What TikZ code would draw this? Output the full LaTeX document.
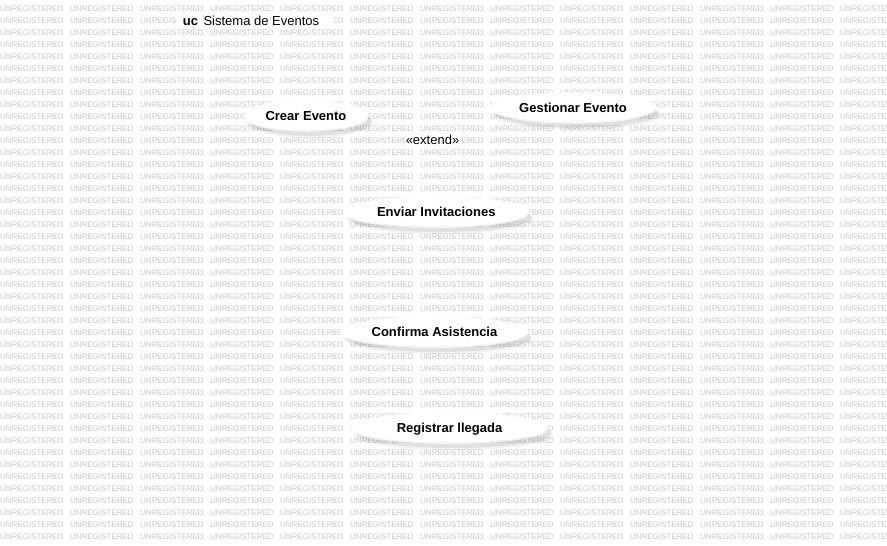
\documentclass[tikz,border=0pt]{standalone}
\usepackage{fontspec}
\setmainfont{Liberation Sans}
\usetikzlibrary{shapes.geometric,shadows}
\tikzset{
  wm/.style={anchor=west, inner sep=0pt, font=\fontsize{8}{8}\selectfont, text=black!22},
  usecase/.style={ellipse, fill=white, draw=white, line width=3pt, draw opacity=.7,
    inner sep=0pt, text height=9.4pt, text depth=0pt,
    font=\fontsize{13}{13}\selectfont\bfseries,
    drop shadow={shadow xshift=4pt, shadow yshift=-7pt, shadow scale=1.02, fill=black, opacity=.05},
    drop shadow={shadow xshift=4pt, shadow yshift=-5.5pt, fill=black, opacity=.07}},
  lbl/.style={anchor=base, inner sep=0.5pt, fill=white, font=\fontsize{13}{13}\selectfont},
  titlebox/.style={fill=white, inner sep=0pt, minimum width=158pt, minimum height=16pt}
}
\begin{document}
\begin{tikzpicture}[x=1pt,y=-1pt]
  \clip (0,0) rectangle (887,546);
  \fill[white] (0,0) rectangle (887,546);
  % watermark
  \foreach \r in {0,...,44}{
    \foreach \c in {0,...,12}{
      \node[wm] (w\r-\c) at (70*\c, 8.5+12*\r) {UNREGISTERED};
    }
  }
  % frame title
  \node[titlebox] (titlebg) at (255,20.5) {};
  \node[anchor=base west, inner sep=0pt, font=\fontsize{13}{13}\selectfont] (title) at (182.7,25.3)
    {\textbf{uc}\hspace{5.5pt}Sistema de Eventos};
  % use cases
  \node[usecase, minimum width=123pt, minimum height=29pt] (crear) at (306,115.8) {Crear Evento};
  \node[usecase, minimum width=163pt, minimum height=29pt] (gestionar) at (573,107.6) {Gestionar Evento};
  \node[usecase, minimum width=183pt, minimum height=29pt] (enviar) at (436.3,212) {Enviar Invitaciones};
  \node[usecase, minimum width=185pt, minimum height=29pt] (confirma) at (434.5,332) {Confirma Asistencia};
  \node[usecase, minimum width=195pt, minimum height=29pt] (registrar) at (449.5,428) {Registrar llegada};
  % stereotype label
  \node[lbl] (extend) at (432.5,144.3) {«extend»};
\end{tikzpicture}
\end{document}
